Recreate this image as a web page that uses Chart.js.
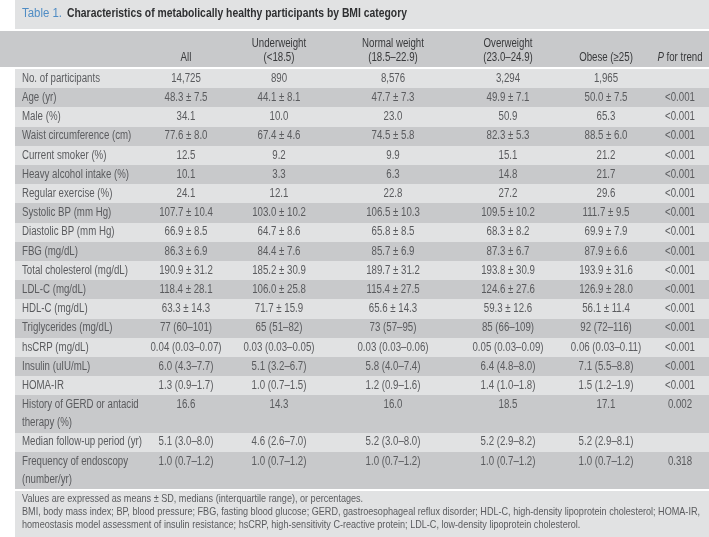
<!DOCTYPE html>
<html>
<head>
<meta charset="utf-8">
<script src="https://cdn.jsdelivr.net/npm/chart.js@4.4.1/dist/chart.umd.min.js"></script>
<style>
  body { margin: 0; background: #fff; }
  canvas { display: block; }
</style>
</head>
<body>
<canvas id="tableChart" width="709" height="537"></canvas>
<script>
const titleTag = 'Table 1.';
const titleText = 'Characteristics of metabolically healthy participants by BMI category';

const headers = [
  ['All'],
  ['Underweight', '(<18.5)'],
  ['Normal weight', '(18.5–22.9)'],
  ['Overweight', '(23.0–24.9)'],
  ['Obese (≥25)'],
  ['P for trend']
];

const rowLabels = [
  ['No. of participants'],
  ['Age (yr)'],
  ['Male (%)'],
  ['Waist circumference (cm)'],
  ['Current smoker (%)'],
  ['Heavy alcohol intake (%)'],
  ['Regular exercise (%)'],
  ['Systolic BP (mm Hg)'],
  ['Diastolic BP (mm Hg)'],
  ['FBG (mg/dL)'],
  ['Total cholesterol (mg/dL)'],
  ['LDL-C (mg/dL)'],
  ['HDL-C (mg/dL)'],
  ['Triglycerides (mg/dL)'],
  ['hsCRP (mg/dL)'],
  ['Insulin (uIU/mL)'],
  ['HOMA-IR'],
  ['History of GERD or antacid', 'therapy (%)'],
  ['Median follow-up period (yr)'],
  ['Frequency of endoscopy', '(number/yr)']
];

const allValues = ['14,725', '48.3 ± 7.5', '34.1', '77.6 ± 8.0', '12.5', '10.1', '24.1',
  '107.7 ± 10.4', '66.9 ± 8.5', '86.3 ± 6.9', '190.9 ± 31.2', '118.4 ± 28.1', '63.3 ± 14.3',
  '77 (60–101)', '0.04 (0.03–0.07)', '6.0 (4.3–7.7)', '1.3 (0.9–1.7)', '16.6', '5.1 (3.0–8.0)', '1.0 (0.7–1.2)'];
const underweightValues = ['890', '44.1 ± 8.1', '10.0', '67.4 ± 4.6', '9.2', '3.3', '12.1',
  '103.0 ± 10.2', '64.7 ± 8.6', '84.4 ± 7.6', '185.2 ± 30.9', '106.0 ± 25.8', '71.7 ± 15.9',
  '65 (51–82)', '0.03 (0.03–0.05)', '5.1 (3.2–6.7)', '1.0 (0.7–1.5)', '14.3', '4.6 (2.6–7.0)', '1.0 (0.7–1.2)'];
const normalValues = ['8,576', '47.7 ± 7.3', '23.0', '74.5 ± 5.8', '9.9', '6.3', '22.8',
  '106.5 ± 10.3', '65.8 ± 8.5', '85.7 ± 6.9', '189.7 ± 31.2', '115.4 ± 27.5', '65.6 ± 14.3',
  '73 (57–95)', '0.03 (0.03–0.06)', '5.8 (4.0–7.4)', '1.2 (0.9–1.6)', '16.0', '5.2 (3.0–8.0)', '1.0 (0.7–1.2)'];
const overweightValues = ['3,294', '49.9 ± 7.1', '50.9', '82.3 ± 5.3', '15.1', '14.8', '27.2',
  '109.5 ± 10.2', '68.3 ± 8.2', '87.3 ± 6.7', '193.8 ± 30.9', '124.6 ± 27.6', '59.3 ± 12.6',
  '85 (66–109)', '0.05 (0.03–0.09)', '6.4 (4.8–8.0)', '1.4 (1.0–1.8)', '18.5', '5.2 (2.9–8.2)', '1.0 (0.7–1.2)'];
const obeseValues = ['1,965', '50.0 ± 7.5', '65.3', '88.5 ± 6.0', '21.2', '21.7', '29.6',
  '111.7 ± 9.5', '69.9 ± 7.9', '87.9 ± 6.6', '193.9 ± 31.6', '126.9 ± 28.0', '56.1 ± 11.4',
  '92 (72–116)', '0.06 (0.03–0.11)', '7.1 (5.5–8.8)', '1.5 (1.2–1.9)', '17.1', '5.2 (2.9–8.1)', '1.0 (0.7–1.2)'];
const pTrendValues = ['', '<0.001', '<0.001', '<0.001', '<0.001', '<0.001', '<0.001',
  '<0.001', '<0.001', '<0.001', '<0.001', '<0.001', '<0.001',
  '<0.001', '<0.001', '<0.001', '<0.001', '0.002', '', '0.318'];

const footnotes = [
  'Values are expressed as means ± SD, medians (interquartile range), or percentages.',
  'BMI, body mass index; BP, blood pressure; FBG, fasting blood glucose; GERD, gastroesophageal reflux disorder; HDL-C, high-density lipoprotein cholesterol; HOMA-IR,',
  'homeostasis model assessment of insulin resistance; hsCRP, high-sensitivity C-reactive protein; LDL-C, low-density lipoprotein cholesterol.'
];

// layout (x-scale units across the table body)
const columnSeries = [allValues, underweightValues, normalValues, overweightValues, obeseValues, pTrendValues];
const columnCenters = [171, 264, 378, 493, 591, 665];
const labelX = 7;
const tableWidth = 694;
const lineStep = 0.94; // extra height of a wrapped line, in row units

const rowSpans = rowLabels.map(l => 1 + (l.length - 1) * lineStep);
const rowStarts = [];
rowSpans.reduce((acc, s) => { rowStarts.push(acc); return acc + s; }, 0);
const totalUnits = rowSpans.reduce((a, b) => a + b, 0);

const LIGHT = '#e1e2e3';
const DARK = '#c8c9cb';
const TEXT = '#5a5b5e';
const HEAD_TEXT = '#38393b';
const FONT = '"Liberation Sans", Arial, sans-serif';

// draw text squeezed horizontally (narrow typeface look)
function narrowText(ctx, text, x, y, align, sx) {
  const w = ctx.measureText(text).width * sx;
  let start = x;
  if (align === 'center') start = x - w / 2;
  else if (align === 'right') start = x - w;
  ctx.save();
  ctx.textAlign = 'left';
  ctx.translate(start, y);
  ctx.scale(sx, 1);
  ctx.fillText(text, 0, 0);
  ctx.restore();
  return w;
}

const tablePlugin = {
  id: 'tablePlugin',
  beforeDraw(chart) {
    const ctx = chart.ctx;
    const x = chart.scales.x, y = chart.scales.y;
    const left = x.getPixelForValue(0), right = x.getPixelForValue(tableWidth);
    ctx.save();
    ctx.fillStyle = '#fff';
    ctx.fillRect(0, 0, chart.width, chart.height);
    ctx.fillStyle = LIGHT;
    ctx.fillRect(left, 0, right - left, 29);
    ctx.fillStyle = DARK;
    ctx.fillRect(0, 31, chart.width, y.getPixelForValue(0) - 33);
    rowLabels.forEach((lbl, i) => {
      const top = Math.round(y.getPixelForValue(rowStarts[i]));
      const bot = Math.round(y.getPixelForValue(rowStarts[i] + rowSpans[i]));
      ctx.fillStyle = i % 2 === 0 ? LIGHT : DARK;
      ctx.fillRect(left, top, right - left, bot - top);
    });
    const fTop = Math.round(y.getPixelForValue(totalUnits)) + 2;
    ctx.fillStyle = LIGHT;
    ctx.fillRect(left, fTop, right - left, chart.height - fTop);
    ctx.restore();
  },
  afterDraw(chart) {
    const ctx = chart.ctx;
    const x = chart.scales.x, y = chart.scales.y;
    ctx.save();
    ctx.textBaseline = 'middle';

    // body scale: "No. of participants" spans ~78px in the reference
    ctx.font = '12px ' + FONT;
    const sx = 78 / ctx.measureText('No. of participants').width;

    // title
    ctx.font = '12.5px ' + FONT;
    ctx.fillStyle = '#4f8cc4';
    narrowText(ctx, titleTag, 22, 14, 'left', 40 / ctx.measureText(titleTag).width);
    ctx.font = 'bold 12.5px ' + FONT;
    ctx.fillStyle = '#2f3032';
    narrowText(ctx, titleText, 67, 14, 'left', 340 / ctx.measureText(titleText).width);

    // header
    ctx.fillStyle = HEAD_TEXT;
    headers.forEach((lines, c) => {
      const cx = x.getPixelForValue(columnCenters[c]);
      lines.forEach((line, k) => {
        const ly = 58 - (lines.length - 1 - k) * 14;
        if (line.startsWith('P for')) {
          ctx.font = 'italic 12px ' + FONT;
          const pW = ctx.measureText('P').width * sx;
          ctx.font = '12px ' + FONT;
          const restW = ctx.measureText(' for trend').width * sx;
          const startX = cx - (pW + restW) / 2;
          ctx.font = 'italic 12px ' + FONT;
          narrowText(ctx, 'P', startX, ly, 'left', sx);
          ctx.font = '12px ' + FONT;
          narrowText(ctx, ' for trend', startX + pW, ly, 'left', sx);
        } else {
          ctx.font = '12px ' + FONT;
          narrowText(ctx, line, cx, ly, 'center', sx);
        }
      });
    });

    // body
    ctx.font = '12px ' + FONT;
    ctx.fillStyle = TEXT;
    const unitH = y.getPixelForValue(1) - y.getPixelForValue(0);
    rowLabels.forEach((lines, i) => {
      const top = y.getPixelForValue(rowStarts[i]);
      lines.forEach((line, k) => {
        narrowText(ctx, line, x.getPixelForValue(labelX), top + unitH / 2 + k * unitH * lineStep, 'left', sx);
      });
      columnSeries.forEach((series, c) => {
        narrowText(ctx, series[i], x.getPixelForValue(columnCenters[c]), top + unitH / 2, 'center', sx);
      });
    });

    // footnotes: second line spans ~678px in the reference
    ctx.font = '10.5px ' + FONT;
    const fsx = 678 / ctx.measureText(footnotes[1]).width;
    const fTop = Math.round(y.getPixelForValue(totalUnits)) + 2;
    footnotes.forEach((line, k) => {
      narrowText(ctx, line, 22, fTop + 8 + k * 13, 'left', fsx);
    });
    ctx.restore();
  }
};

new Chart(document.getElementById('tableChart'), {
  type: 'scatter',
  data: { datasets: [] },
  options: {
    responsive: false,
    animation: false,
    devicePixelRatio: 1,
    layout: { padding: { left: 15, right: 0, top: 69, bottom: 48 } },
    plugins: { legend: { display: false }, tooltip: { enabled: false } },
    scales: {
      x: { type: 'linear', min: 0, max: tableWidth, display: false },
      y: { type: 'linear', min: 0, max: totalUnits, reverse: true, display: false }
    }
  },
  plugins: [tablePlugin]
});
</script>
</body>
</html>
